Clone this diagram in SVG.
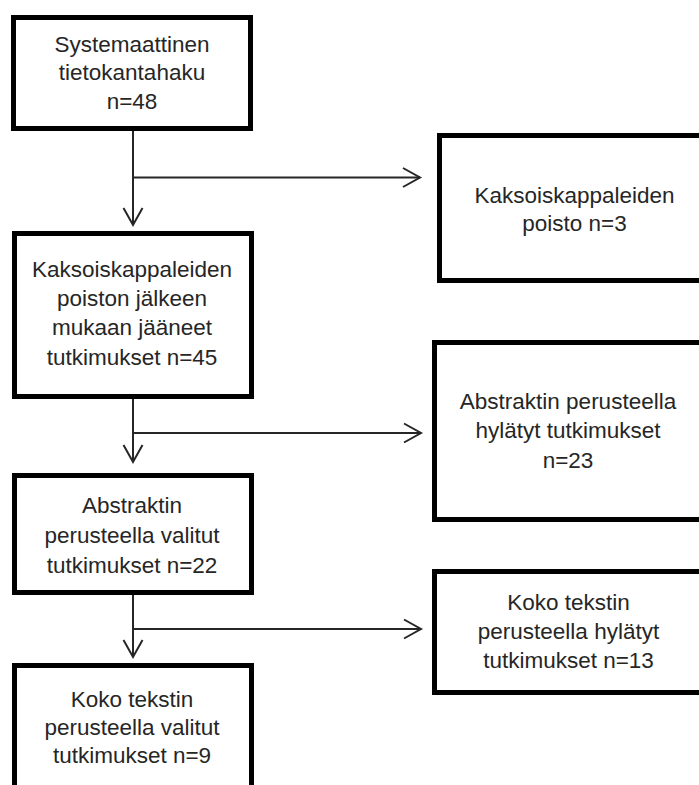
<svg xmlns="http://www.w3.org/2000/svg" width="699" height="785" viewBox="0 0 699 785">
<style>
.box{fill:#fff;stroke:#000;stroke-width:5}
.t{font-family:"Liberation Sans",Arial,sans-serif;font-size:22.5px;fill:#262626;text-anchor:middle}
.c{fill:none;stroke:#262626;stroke-width:2}
</style>
<defs>
<marker id="ah" markerUnits="userSpaceOnUse" markerWidth="24" markerHeight="24" refX="18" refY="10" orient="auto" viewBox="0 0 24 20">
<path d="M1,0.5 L18,10 L1,19.5" fill="none" stroke="#262626" stroke-width="2"/>
</marker>
</defs>
<rect width="699" height="785" fill="#fff"/>
<g id="connectors">
<path class="c" d="M133,131 V225" marker-end="url(#ah)"/>
<path class="c" d="M133,177.5 H420" marker-end="url(#ah)"/>
<path class="c" d="M133,399 V462" marker-end="url(#ah)"/>
<path class="c" d="M133,433 H421" marker-end="url(#ah)"/>
<path class="c" d="M133,595 V657" marker-end="url(#ah)"/>
<path class="c" d="M133,629 H421" marker-end="url(#ah)"/>
</g>
<g id="n1">
<rect class="box" x="13.5" y="17.5" width="237" height="111"/>
<text class="t" x="132" y="52">Systemaattinen</text>
<text class="t" x="132" y="80">tietokantahaku</text>
<text class="t" x="132" y="109">n=48</text>
</g>
<g id="n2">
<rect class="box" x="14.5" y="233.5" width="237" height="163"/>
<text class="t" x="132" y="277">Kaksoiskappaleiden</text>
<text class="t" x="132" y="306">poiston jälkeen</text>
<text class="t" x="132" y="335">mukaan jääneet</text>
<text class="t" x="132" y="365">tutkimukset n=45</text>
</g>
<g id="n3">
<rect class="box" x="14.5" y="475.5" width="237" height="117"/>
<text class="t" x="132" y="513">Abstraktin</text>
<text class="t" x="132" y="543">perusteella valitut</text>
<text class="t" x="132" y="573">tutkimukset n=22</text>
</g>
<g id="n4">
<rect class="box" x="14.5" y="665.5" width="237" height="140"/>
<text class="t" x="132" y="707">Koko tekstin</text>
<text class="t" x="132" y="735">perusteella valitut</text>
<text class="t" x="132" y="763">tutkimukset n=9</text>
</g>
<g id="r1">
<rect class="box" x="439.5" y="135.5" width="272" height="145"/>
<text class="t" x="574.5" y="203">Kaksoiskappaleiden</text>
<text class="t" x="574.5" y="231">poisto n=3</text>
</g>
<g id="r2">
<rect class="box" x="434.5" y="342.5" width="272" height="177"/>
<text class="t" x="568" y="409">Abstraktin perusteella</text>
<text class="t" x="568" y="438">hylätyt tutkimukset</text>
<text class="t" x="568" y="468">n=23</text>
</g>
<g id="r3">
<rect class="box" x="434.5" y="571.5" width="272" height="121"/>
<text class="t" x="568.5" y="610">Koko tekstin</text>
<text class="t" x="568.5" y="639">perusteella hylätyt</text>
<text class="t" x="568.5" y="668">tutkimukset n=13</text>
</g>
</svg>
